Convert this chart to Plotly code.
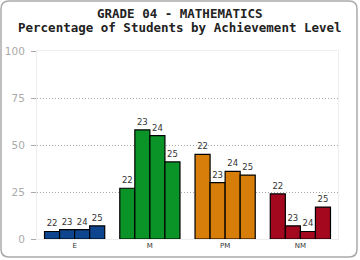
import plotly.graph_objects as go

categories = ["E", "M", "PM", "NM"]
years = ["22", "23", "24", "25"]
values_22 = [4, 27, 45, 24]
values_23 = [5, 58, 30, 7]
values_24 = [5, 55, 36, 4]
values_25 = [7, 41, 34, 17]
series = [values_22, values_23, values_24, values_25]
cat_colors = ["#0d468f", "#0a9428", "#d67d0a", "#a3081f"]
y_ticks = [0, 25, 50, 75, 100]
title_lines = ["GRADE 04 - MATHEMATICS", "Percentage of Students by Achievement Level"]

fig = go.Figure()
for yr, vals in zip(years, series):
    fig.add_trace(go.Bar(
        x=categories, y=vals, name=yr,
        text=[yr] * len(vals), textposition="outside",
        textfont=dict(family="DejaVu Sans", size=8.5, color="#333333"),
        marker=dict(color=cat_colors, line=dict(color="#000000", width=1.2)),
        cliponaxis=False, hoverinfo="skip",
    ))

L, R, T, B = 37, 22, 51, 21
W, H = 360, 260
pw, ph = W - L - R, H - T - B

def px(x):
    return (x - L) / pw

def py(y):
    return (H - B - y) / ph

x0, x1, y0, y1, r = 1, 357, 1, 257, 8
path = (f"M {px(x0 + r)},{py(y0)} L {px(x1 - r)},{py(y0)} "
        f"Q {px(x1)},{py(y0)} {px(x1)},{py(y0 + r)} "
        f"L {px(x1)},{py(y1 - r)} Q {px(x1)},{py(y1)} {px(x1 - r)},{py(y1)} "
        f"L {px(x0 + r)},{py(y1)} Q {px(x0)},{py(y1)} {px(x0)},{py(y1 - r)} "
        f"L {px(x0)},{py(y0 + r)} Q {px(x0)},{py(y0)} {px(x0 + r)},{py(y0)} Z")

annotations = []
for i, line in enumerate(title_lines):
    annotations.append(dict(
        text=f"<b>{line}</b>", xref="paper", yref="paper",
        x=px(180), y=py(13 + 14 * i), xanchor="center", yanchor="middle",
        showarrow=False,
        font=dict(family="DejaVu Sans Mono", size=12.5, color="#222222"),
    ))

fig.update_layout(
    width=W, height=H,
    margin=dict(l=L, r=R, t=T, b=B, autoexpand=False),
    paper_bgcolor="white", plot_bgcolor="white",
    barmode="group", bargap=0.2, bargroupgap=0,
    showlegend=False,
    annotations=annotations,
    xaxis=dict(
        showgrid=False, showline=True, mirror=True, linecolor="#eeeeee", linewidth=1,
        ticks="", tickfont=dict(family="DejaVu Sans", size=7, color="#333333"),
        fixedrange=True, automargin=False,
    ),
    yaxis=dict(
        range=[0, 100], tickvals=y_ticks,
        showgrid=True, gridcolor="#a8a8a8", griddash="1px,2px", gridwidth=1,
        zeroline=False,
        showline=True, mirror=True, linecolor="#eeeeee", linewidth=1,
        ticks="outside", ticklen=5, tickcolor="#aaaaaa",
        ticklabelstandoff=4,
        tickfont=dict(family="DejaVu Sans", size=10.5, color="#aaaaaa"),
        fixedrange=True, automargin=False,
    ),
    shapes=[dict(type="path", xref="paper", yref="paper", path=path,
                 line=dict(color="#aaaaaa", width=1.5), layer="below")],
)

fig.write_html("out.html")
